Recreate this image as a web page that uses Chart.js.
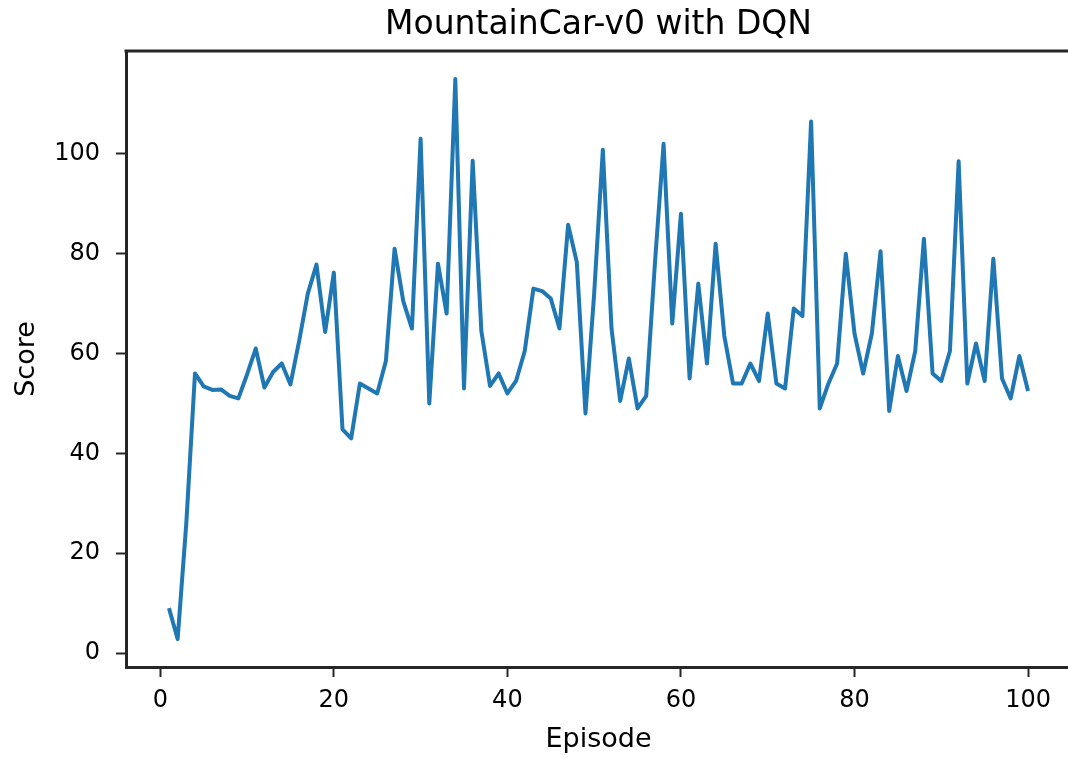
<!DOCTYPE html>
<html>
<head>
<meta charset="utf-8">
<script src="https://cdn.jsdelivr.net/npm/chart.js@4/dist/chart.umd.min.js"></script>
<style>
  html, body { margin: 0; padding: 0; background: #fff; overflow: hidden; width: 1068px; height: 758px; }
  #wrap { width: 1076px; height: 758px; }
</style>
</head>
<body>
<div id="wrap"><canvas id="scoreChart" width="1076" height="758"></canvas></div>
<script>
// scores per episode (episode = index + 1)
const scores = [
  9, 2.8, 26, 56, 53.4, 52.7, 52.8, 51.5, 51, 55.8,
  61, 53.2, 56.3, 58, 53.8, 62.5, 72, 77.8, 64.3, 76.2,
  44.8, 43, 54, 53, 52, 58.5, 81, 70.5, 65, 103,
  50, 78, 68, 115, 53, 98.6, 64.5, 53.5, 56, 52,
  54.5, 60.5, 73, 72.5, 71, 65, 85.8, 78.3, 48, 72,
  100.8, 65, 50.5, 59, 49, 51.5, 78, 102, 66, 88,
  55, 74, 58, 82, 63.5, 54, 54, 58, 54.5, 68,
  54, 53, 69, 67.5, 106.5, 49, 54, 58, 80, 64,
  56, 64, 80.5, 48.5, 59.5, 52.5, 60.5, 83, 56, 54.5,
  60.5, 98.5, 54, 62, 54.5, 79, 55, 51, 59.5, 52.5
];
const xTicks = [0, 20, 40, 60, 80, 100];
const yTicks = [0, 20, 40, 60, 80, 100];
const xRange = [-3.95, 104.95];
const yRange = [-2.8, 120.6];

const FONT = "'DejaVu Sans', sans-serif";
const INK = "#262626";

// matplotlib-style frame: top + right spines (bottom/left come from the axes)
const framePlugin = {
  id: "frame",
  afterDraw(chart) {
    const a = chart.chartArea;
    const ctx = chart.ctx;
    ctx.save();
    ctx.strokeStyle = INK;
    ctx.lineWidth = 3;
    ctx.beginPath();
    ctx.moveTo(a.left - 1.5, a.top);
    ctx.lineTo(a.right, a.top);
    ctx.lineTo(a.right, a.bottom);
    ctx.stroke();
    ctx.restore();
  }
};

new Chart(document.getElementById("scoreChart").getContext("2d"), {
  type: "line",
  data: {
    datasets: [{
      data: scores.map((s, i) => ({ x: i + 1, y: s })),
      borderColor: "#1f77b4",
      borderWidth: 4,
      borderJoinStyle: "round",
      borderCapStyle: "butt",
      pointRadius: 0,
      tension: 0,
      fill: false
    }]
  },
  options: {
    responsive: false,
    animation: false,
    devicePixelRatio: 1,
    layout: { padding: { left: 0, right: 5, top: 0, bottom: 0 } },
    plugins: {
      legend: { display: false },
      tooltip: { enabled: false },
      title: {
        display: true,
        text: "MountainCar-v0 with DQN",
        fullSize: false,
        color: "#000",
        font: { family: FONT, size: 33, weight: "normal" },
        padding: { top: 6, bottom: 5.4 }
      }
    },
    scales: {
      x: {
        type: "linear",
        min: xRange[0],
        max: xRange[1],
        afterBuildTicks: (s) => { s.ticks = xTicks.map(v => ({ value: v })); },
        afterFit: (s) => { s.height = 91; },
        grid: { drawOnChartArea: false, drawTicks: true, tickLength: 10, tickWidth: 2, tickColor: INK },
        border: { display: true, color: INK, width: 3 },
        ticks: { color: "#000", padding: 9, maxRotation: 0, font: { family: FONT, size: 24 } },
        title: { display: true, text: "Episode", color: "#000", font: { family: FONT, size: 27 }, padding: { top: 0, bottom: 2 } }
      },
      y: {
        type: "linear",
        min: yRange[0],
        max: yRange[1],
        afterBuildTicks: (s) => { s.ticks = yTicks.map(v => ({ value: v })); },
        afterFit: (s) => { s.width = 126; },
        grid: { drawOnChartArea: false, drawTicks: true, tickLength: 10, tickWidth: 2, tickColor: INK },
        border: { display: true, color: INK, width: 3 },
        ticks: { color: "#000", padding: 16, font: { family: FONT, size: 24 } },
        title: { display: true, text: "Score", color: "#000", font: { family: FONT, size: 27 }, padding: { top: 11, bottom: 0 } }
      }
    }
  },
  plugins: [framePlugin]
});
</script>
</body>
</html>
